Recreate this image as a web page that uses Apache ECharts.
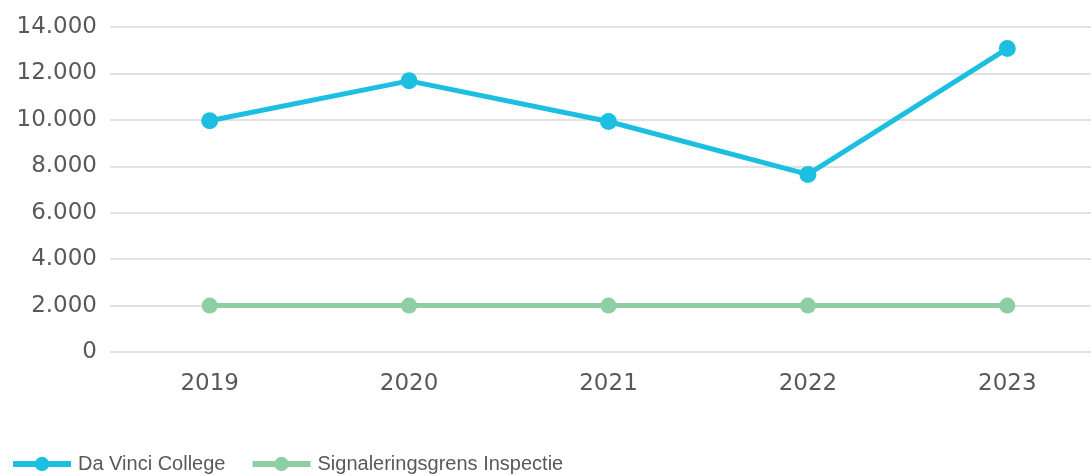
<!DOCTYPE html>
<html><head><meta charset="utf-8">
<script src="https://cdn.jsdelivr.net/npm/echarts@6/dist/echarts.min.js"></script>
<style>html,body{margin:0;padding:0;background:#fff;overflow:hidden}#c{width:1107px;height:476px}</style>
</head><body><div id="c"></div>
<script>
const categories = ['2019', '2020', '2021', '2022', '2023'];
const daVinci = [9960, 11680, 9930, 7650, 13070];
const signalering = [2000, 2000, 2000, 2000, 2000];
const seriesNames = ['Da Vinci College', 'Signaleringsgrens Inspectie'];

const chart = echarts.init(document.getElementById('c'));
chart.setOption({
  animation: false,
  grid: { left: 110, right: 0, top: 27, bottom: 124 },
  legend: {
    left: 10, top: 454, padding: 0, itemWidth: 58, itemHeight: 18, itemGap: 24,
    lineStyle: { width: 6 },
    textStyle: { fontFamily: 'Liberation Sans', fontSize: 20, color: '#595959', padding: [0, 0, 0, 2] },
    data: seriesNames
  },
  xAxis: {
    type: 'category', data: categories, boundaryGap: true,
    axisLine: { show: false }, axisTick: { show: false },
    axisLabel: { fontFamily: 'DejaVu Sans', fontSize: 23, color: '#595959', margin: 21 }
  },
  yAxis: {
    type: 'value', min: 0, max: 14000, interval: 2000,
    axisLine: { show: false }, axisTick: { show: false },
    splitLine: { lineStyle: { color: '#d9d9d9', width: 1.5 } },
    axisLabel: {
      fontFamily: 'DejaVu Sans', fontSize: 23, color: '#595959', margin: 13,
      formatter: v => String(v).replace(/\B(?=(\d{3})+(?!\d))/g, '.')
    }
  },
  series: [
    { name: seriesNames[0], type: 'line', data: daVinci, symbol: 'circle', symbolSize: 17,
      lineStyle: { width: 5, color: '#1dbfe0' }, itemStyle: { color: '#1dbfe0' }, z: 3 },
    { name: seriesNames[1], type: 'line', data: signalering, symbol: 'circle', symbolSize: 16,
      lineStyle: { width: 5, color: '#8dcfa2' }, itemStyle: { color: '#8dcfa2' }, z: 2 }
  ]
});
</script></body></html>
